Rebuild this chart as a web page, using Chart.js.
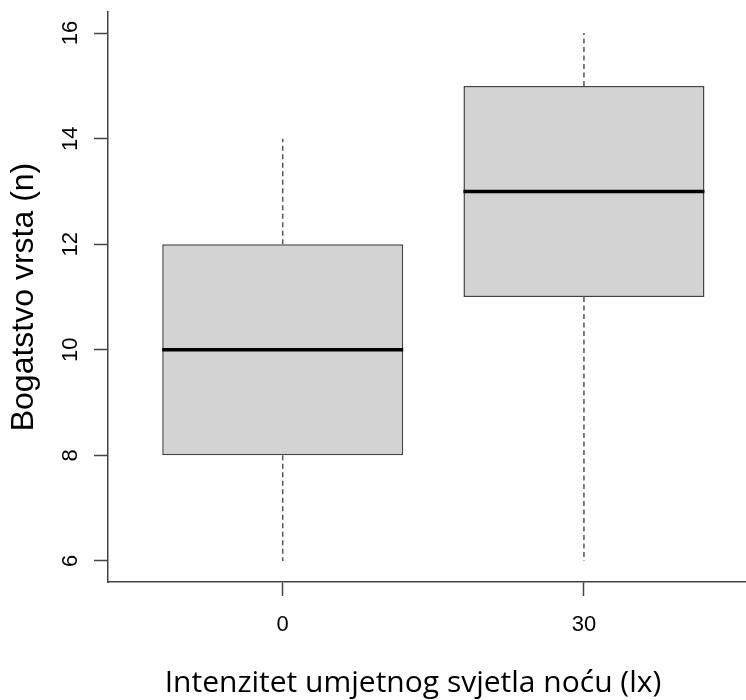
<!DOCTYPE html>
<html>
<head>
<meta charset="utf-8">
<script src="https://cdn.jsdelivr.net/npm/chart.js@4.4.1/dist/chart.umd.min.js"></script>
<style>
  html, body { margin: 0; padding: 0; background: #ffffff; }
  #wrap { width: 746px; height: 700px; }
</style>
</head>
<body>
<div id="wrap"><canvas id="c" width="746" height="700"></canvas></div>
<script>
// ---- data ----
const categories = ["0", "30"];
const whiskerMin = [6, 6];
const q1Values = [8, 11];
const medianValues = [10, 13];
const q3Values = [12, 15];
const whiskerMax = [14, 16];
const yTickValues = [6, 8, 10, 12, 14, 16];
const yTitle = "Bogatstvo vrsta (n)";
const xTitle = "Intenzitet umjetnog svjetla noću (lx)";

const axisColor = '#444444';

const boxPlugin = {
  id: 'boxExtras',
  afterDatasetsDraw(chart) {
    const ctx = chart.ctx;
    const y = chart.scales.y;
    const meta = chart.getDatasetMeta(0);
    meta.data.forEach((bar, i) => {
      const half = bar.width / 2;
      const cx = bar.x;
      // whiskers
      ctx.save();
      ctx.strokeStyle = '#555555';
      ctx.lineWidth = 1.5;
      ctx.setLineDash([5, 3.5]);
      ctx.beginPath();
      ctx.moveTo(cx, y.getPixelForValue(q3Values[i]));
      ctx.lineTo(cx, y.getPixelForValue(whiskerMax[i]));
      ctx.moveTo(cx, y.getPixelForValue(q1Values[i]));
      ctx.lineTo(cx, y.getPixelForValue(whiskerMin[i]));
      ctx.stroke();
      ctx.restore();
      // median
      ctx.save();
      ctx.strokeStyle = '#000000';
      ctx.lineWidth = 3.5;
      ctx.beginPath();
      const my = y.getPixelForValue(medianValues[i]);
      ctx.moveTo(cx - half, my);
      ctx.lineTo(cx + half, my);
      ctx.stroke();
      ctx.restore();
    });
  },
  afterDraw(chart) {
    const ctx = chart.ctx;
    const y = chart.scales.y;
    // rotated y tick labels (R style, las = 0)
    ctx.save();
    ctx.fillStyle = '#000000';
    ctx.font = '22px "Liberation Sans", Arial, sans-serif';
    ctx.textAlign = 'center';
    ctx.textBaseline = 'alphabetic';
    y.ticks.forEach(t => {
      const py = y.getPixelForValue(t.value);
      ctx.save();
      ctx.translate(77, py);
      ctx.rotate(-Math.PI / 2);
      ctx.fillText(String(t.value), 0, 0);
      ctx.restore();
    });
    ctx.restore();
    // x axis title
    ctx.save();
    ctx.fillStyle = '#000000';
    ctx.font = '30px "Open Sans", "Noto Sans", sans-serif';
    ctx.textAlign = 'center';
    ctx.textBaseline = 'alphabetic';
    ctx.fillText(xTitle, 413, 692);
    ctx.restore();
  }
};

new Chart(document.getElementById('c'), {
  type: 'bar',
  data: {
    datasets: [{
      data: categories.map((c, i) => ({ x: i + 1, y: [q1Values[i], q3Values[i]] })),
      backgroundColor: '#d3d3d3',
      borderColor: axisColor,
      borderWidth: 1.5,
      borderSkipped: false,
      categoryPercentage: 1.0,
      barPercentage: 0.8
    }]
  },
  plugins: [boxPlugin],
  options: {
    responsive: false,
    animation: false,
    layout: { padding: { top: 12, right: 0, bottom: 0, left: 0 } },
    plugins: { legend: { display: false }, tooltip: { enabled: false } },
    scales: {
      x: {
        type: 'linear',
        position: 'bottom',
        min: 0.42,
        max: 2.538,
        offset: false,
        afterBuildTicks(scale) { scale.ticks = categories.map((c, i) => ({ value: i + 1 })); },
        afterFit(scale) { scale.height = 118; },
        ticks: {
          callback: (v) => categories[Math.round(v) - 1],
          color: '#000000',
          font: { family: '"Liberation Sans", Arial, sans-serif', size: 22 },
          padding: 16,
          maxRotation: 0
        },
        grid: { display: true, drawOnChartArea: false, drawTicks: true, tickLength: 14, tickColor: axisColor, tickWidth: 1.5, offset: false },
        border: { display: true, color: axisColor, width: 1.5 },
        title: { display: false }
      },
      y: {
        type: 'linear',
        position: 'left',
        min: 5.6,
        max: 16.4,
        beginAtZero: false,
        afterBuildTicks(scale) { scale.ticks = yTickValues.map(v => ({ value: v })); },
        afterFit(scale) { scale.width = 108; },
        ticks: { display: false },
        grid: { display: true, drawOnChartArea: false, drawTicks: true, tickLength: 14, tickColor: axisColor, tickWidth: 1.5 },
        border: { display: true, color: axisColor, width: 1.5 },
        title: {
          display: true,
          text: yTitle,
          color: '#000000',
          font: { family: '"Liberation Sans", Arial, sans-serif', size: 32 },
          padding: { top: 5, bottom: 0 }
        }
      }
    }
  }
});
</script>
</body>
</html>
